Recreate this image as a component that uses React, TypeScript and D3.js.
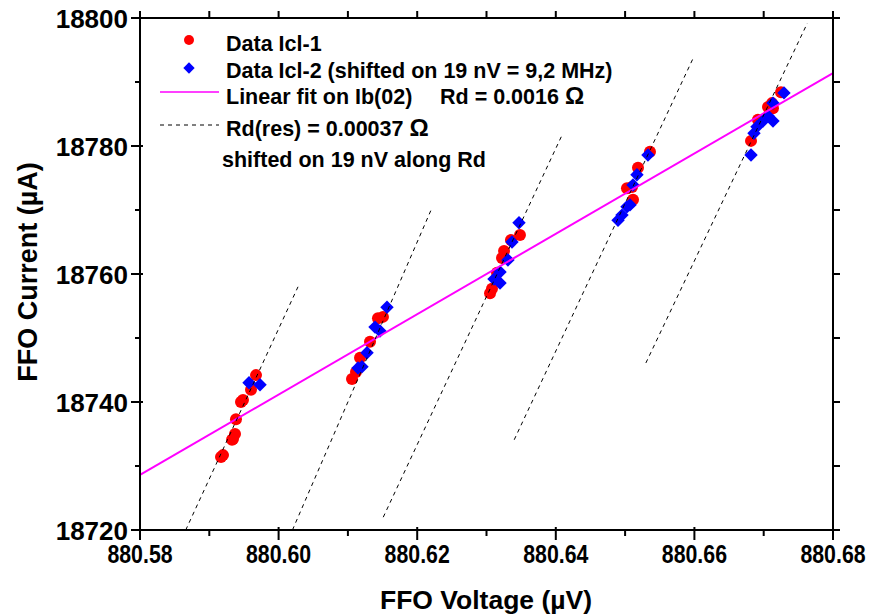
// FFO current vs voltage scatter with linear fit and residual-resistance lines
import * as d3 from "d3";
import { useRef, useEffect } from "react";

// data (x in µV, y in µA)
const redX = [880.59169, 880.59198, 880.59328, 880.59371, 880.59342, 880.59385, 880.59457, 880.59486, 880.59602, 880.59674,
  880.61059, 880.61117, 880.61175, 880.61319, 880.61434, 880.61506,
  880.63051, 880.63079, 880.63152, 880.63224, 880.63253, 880.63353, 880.63483,
  880.65359, 880.65186, 880.65027, 880.65100, 880.65114,
  880.66817, 880.66917, 880.67062, 880.67120, 880.67134, 880.67250];
const redY = [18731.4, 18731.7, 18734.1, 18735.0, 18734.2, 18737.3, 18740.0, 18740.3, 18741.9, 18744.2,
  18743.6, 18744.7, 18746.9, 18749.4, 18753.1, 18753.3,
  18757.0, 18757.7, 18760.2, 18762.5, 18763.6, 18765.3, 18766.1,
  18779.1, 18776.6, 18773.4, 18773.6, 18771.6,
  18780.8, 18784.1, 18786.1, 18786.7, 18785.9, 18788.4];

const blueX = [880.59573, 880.59732,
  880.61564, 880.61391, 880.61463, 880.61276, 880.61203, 880.61146,
  880.63469, 880.63368, 880.63310, 880.63195, 880.63108, 880.63195,
  880.65330, 880.65171, 880.65114, 880.65027, 880.64955, 880.64898, 880.65071,
  880.66817, 880.66860, 880.66903, 880.66990, 880.67062, 880.67134, 880.67134, 880.67293];
const blueY = [18743.0, 18742.7,
  18754.8, 18751.7, 18751.1, 18747.7, 18745.5, 18745.3,
  18768.0, 18765.0, 18762.2, 18760.3, 18759.2, 18758.6,
  18778.6, 18775.5, 18773.9, 18770.5, 18769.2, 18768.4, 18770.8,
  18778.6, 18782.0, 18783.0, 18783.9, 18784.7, 18783.9, 18786.7, 18788.3];

// linear fit end points
const fitX = [880.58, 880.68];
const fitY = [18728.6, 18791.4];

// dashed Rd(res) segments: start and end
const dashX1 = [880.5866, 880.6020, 880.6151, 880.6340, 880.6530];
const dashY1 = [18720, 18720, 18722.0, 18734.1, 18746.1];
const dashX2 = [880.6028, 880.6220, 880.6409, 880.6599, 880.6763];
const dashY2 = [18758.0, 18770.0, 18781.7, 18793.9, 18799.2];

const xTicks = [880.58, 880.60, 880.62, 880.64, 880.66, 880.68];
const yTicks = [18720, 18740, 18760, 18780, 18800];

export default function App() {
  const svgRef = useRef<SVGSVGElement>(null);

  useEffect(() => {
    const svg = d3.select(svgRef.current);
    svg.selectAll("*").remove();

    const font = "'Liberation Sans', Arial, sans-serif";
    const left = 140, right = 833, top = 18, bottom = 530;

    const x = d3.scaleLinear().domain([880.58, 880.68]).range([left, right]);
    const y = d3.scaleLinear().domain([18720, 18800]).range([bottom, top]);

    const plot = svg.append("g");

    // red circles
    plot.selectAll("circle.red").data(redX).enter().append("circle")
      .attr("cx", d => x(d)).attr("cy", (d, i) => y(redY[i])).attr("r", 6).attr("fill", "#ff0000");

    // blue diamonds
    const diamond = d3.symbol().type(d3.symbolSquare).size(90);
    plot.selectAll("path.blue").data(blueX).enter().append("path")
      .attr("d", diamond())
      .attr("transform", (d, i) => `translate(${x(d)},${y(blueY[i])}) rotate(45)`)
      .attr("fill", "#0000ff");

    // linear fit
    const line = d3.line<number>().x(d => x(d)).y((d, i) => y(fitY[i]));
    plot.append("path").datum(fitX).attr("d", line).attr("stroke", "#ff00ff").attr("stroke-width", 2).attr("fill", "none");

    // dashed segments
    plot.selectAll("line.dash").data(dashX1).enter().append("line")
      .attr("x1", d => x(d)).attr("y1", (d, i) => y(dashY1[i]))
      .attr("x2", (d, i) => x(dashX2[i])).attr("y2", (d, i) => y(dashY2[i]))
      .attr("stroke", "#000").attr("stroke-width", 1).attr("stroke-dasharray", "4,4");

    // frame
    svg.append("rect").attr("x", left).attr("y", top).attr("width", right - left).attr("height", bottom - top)
      .attr("fill", "none").attr("stroke", "#000").attr("stroke-width", 2);

    // ticks
    const ax = svg.append("g").attr("stroke", "#000").attr("stroke-width", 2);
    d3.range(880.58, 880.6801, 0.01).forEach((v, i) => {
      const major = i % 2 === 0;
      ax.append("line").attr("x1", x(v)).attr("x2", x(v)).attr("y1", major ? bottom - 3 : bottom).attr("y2", bottom + (major ? 10 : 6));
      ax.append("line").attr("x1", x(v)).attr("x2", x(v)).attr("y1", top).attr("y2", top - 7);
    });
    d3.range(18720, 18800.1, 10).forEach((v, i) => {
      const major = i % 2 === 0;
      ax.append("line").attr("y1", y(v)).attr("y2", y(v)).attr("x1", left - (major ? 9 : 5)).attr("x2", major ? left + 3 : left);
      ax.append("line").attr("y1", y(v)).attr("y2", y(v)).attr("x1", right).attr("x2", right + 7);
    });

    // tick labels (x labels are condensed in the original)
    svg.selectAll("text.xt").data(xTicks).enter().append("text")
      .attr("transform", d => `translate(${x(d)},563) scale(0.82,1)`).attr("text-anchor", "middle")
      .style("font-family", font).style("font-weight", "bold").style("font-size", "26px")
      .text(d => d.toFixed(2));
    svg.selectAll("text.yt").data(yTicks).enter().append("text")
      .attr("x", 128).attr("y", d => y(d) + 9.5).attr("text-anchor", "end")
      .style("font-family", font).style("font-weight", "bold").style("font-size", "26px")
      .text(d => d);

    // axis titles
    svg.append("text").attr("x", 486).attr("y", 609).attr("text-anchor", "middle")
      .style("font-family", font).style("font-weight", "bold").style("font-size", "26.5px")
      .text("FFO Voltage (µV)");
    svg.append("text").attr("transform", `translate(37,272) rotate(-90)`).attr("text-anchor", "middle")
      .style("font-family", font).style("font-weight", "bold").style("font-size", "27px")
      .text("FFO Current (µA)");

    // legend
    const lg = svg.append("g").style("font-family", font).style("font-weight", "bold").style("font-size", "21.5px");
    lg.append("circle").attr("cx", 189).attr("cy", 40).attr("r", 5).attr("fill", "#ff0000");
    lg.append("path").attr("d", d3.symbol().type(d3.symbolSquare).size(64)()).attr("transform", "translate(189,68) rotate(45)").attr("fill", "#0000ff");
    lg.append("line").attr("x1", 160).attr("x2", 219).attr("y1", 92).attr("y2", 92).attr("stroke", "#ff00ff").attr("stroke-width", 1.5);
    lg.append("line").attr("x1", 160).attr("x2", 219).attr("y1", 125).attr("y2", 125).attr("stroke", "#000").attr("stroke-width", 1).attr("stroke-dasharray", "4,4");

    lg.append("text").attr("x", 226).attr("y", 50.5).text("Data Icl-1");
    lg.append("text").attr("x", 226).attr("y", 77.5).text("Data Icl-2 (shifted on 19 nV = 9,2 MHz)");
    lg.append("text").attr("x", 226).attr("y", 103.5).text("Linear fit on Ib(02)");
    const rd = lg.append("text").attr("x", 440).attr("y", 103.5);
    rd.append("tspan").text("Rd = 0.0016 ");
    rd.append("tspan").style("font-size", "24px").text("Ω");
    const rr = lg.append("text").attr("x", 226).attr("y", 135.5);
    rr.append("tspan").text("Rd(res) = 0.00037 ");
    rr.append("tspan").style("font-size", "24px").text("Ω");
    lg.append("text").attr("x", 222).attr("y", 167).text("shifted on 19 nV along Rd");
  }, []);

  return (
    <svg ref={svgRef} width={873} height={616} style={{ position: "absolute", left: 0, top: 0, background: "#fff" }} />
  );
}
